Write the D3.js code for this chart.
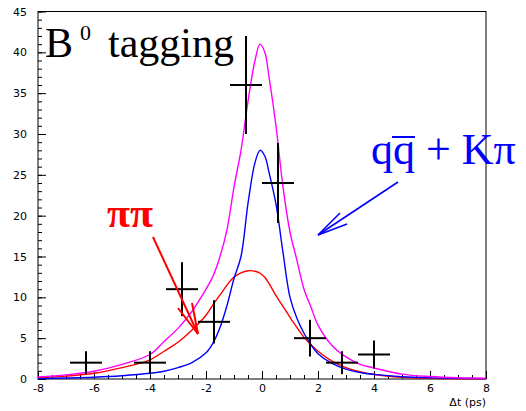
<!DOCTYPE html>
<html>
<head>
<meta charset="utf-8">
<script src="https://cdn.jsdelivr.net/npm/d3@7"></script>
<style>
  html, body { margin: 0; padding: 0; background: #fff; }
  svg { display: block; }
  .serif { font-family: "Liberation Serif", "Times New Roman", Times, "DejaVu Serif", "Noto Serif", FreeSerif, serif; }
</style>
</head>
<body>
<div id="chart"></div>
<script>
// B0 tagging: delta-t distribution with fitted components

// Histogram points (bin centres, counts, error bars)
const binCenters = [-6.286, -4.0, -2.857, -1.714, -0.571, 0.571, 1.714, 2.857, 4.0];
const binCounts  = [2, 2, 11, 7, 36, 24, 5, 2, 3];
const binErrors  = [1.4, 1.4, 3.3, 2.65, 6.0, 4.9, 2.25, 1.4, 1.7];
const binHalfWidth = 0.571;

// Curves
const curveX = [-8, -7, -6, -5, -4, -3.5, -3, -2.5, -2, -1.75, -1.5, -1.25, -1, -0.75, -0.5, -0.25, -0.07, 0.1, 0.25, 0.5, 0.75, 1, 1.25, 1.5, 1.75, 2, 2.5, 3, 3.5, 4, 5, 6, 7, 8];
const totalY = [0.25, 0.5, 0.95, 1.8, 3.0, 4.6, 6.2, 8.3, 11.0, 12.6, 15.0, 18.3, 23.5, 28.0, 34.0, 39.0, 41.0, 40.0, 37.0, 31.0, 23.5, 18.0, 14.5, 11.0, 8.8, 6.6, 4.1, 2.7, 1.8, 1.35, 0.6, 0.3, 0.15, 0.1];
const qqKpiY = [0.05, 0.12, 0.22, 0.4, 0.7, 0.95, 1.4, 2.0, 3.2, 4.4, 6.3, 9.0, 12.3, 15.0, 21.5, 26.5, 28.0, 27.3, 25.3, 21.4, 15.5, 10.0, 7.4, 5.6, 4.2, 3.1, 1.9, 1.2, 0.8, 0.57, 0.28, 0.14, 0.08, 0.05];
const pipiY  = [0.15, 0.35, 0.7, 1.4, 2.35, 3.4, 4.5, 6.0, 7.8, 9.1, 10.3, 11.5, 12.5, 13.0, 13.25, 13.2, 12.95, 12.45, 11.7, 10.2, 8.9, 7.55, 6.3, 5.1, 4.2, 3.4, 2.2, 1.4, 0.9, 0.55, 0.2, 0.08, 0.03, 0.02];

const xTicks = [-8, -6, -4, -2, 0, 2, 4, 6, 8];
const yTicks = [0, 5, 10, 15, 20, 25, 30, 35, 40, 45];

const W = 526, H = 411;
const L = 38, R = 486, T = 11.5, B = 379;

const sans = "'DejaVu Sans', sans-serif";

const svg = d3.select('#chart').append('svg')
    .attr('width', W).attr('height', H);

const x = d3.scaleLinear().domain([-8, 8]).range([L, R]);
const y = d3.scaleLinear().domain([0, 45]).range([B, T]);

// frame
svg.append('rect')
    .attr('x', L).attr('y', T).attr('width', R - L).attr('height', B - T)
    .attr('fill', 'none').attr('stroke', '#000').attr('stroke-width', 1);

// x axis (ticks pointing up, into the frame)
svg.append('g').attr('transform', `translate(0,${B})`)
    .call(d3.axisBottom(x).tickValues(d3.range(-8, 8.01, 0.5)).tickSize(-4).tickFormat(''))
    .call(g => g.select('.domain').remove());
svg.append('g').attr('transform', `translate(0,${B})`)
    .call(d3.axisBottom(x).tickValues(xTicks).tickSize(-8).tickPadding(5)
        .tickFormat(d => d < 0 ? '-' + Math.abs(d) : d))
    .call(g => g.select('.domain').remove())
    .call(g => g.selectAll('text').attr('font-family', sans)
        .attr('font-size', 11).attr('fill', '#000'));

// y axis (ticks pointing right)
svg.append('g').attr('transform', `translate(${L},0)`)
    .call(d3.axisLeft(y).tickValues(d3.range(0, 45.01, 1)).tickSize(-4).tickFormat(''))
    .call(g => g.select('.domain').remove());
svg.append('g').attr('transform', `translate(${L},0)`)
    .call(d3.axisLeft(y).tickValues(yTicks).tickSize(-8).tickPadding(11))
    .call(g => g.select('.domain').remove())
    .call(g => g.selectAll('text').attr('font-family', sans)
        .attr('font-size', 11).attr('fill', '#000'));

svg.selectAll('.tick line').attr('stroke', '#000');

// axis title
svg.append('text').attr('x', R).attr('y', 406).attr('text-anchor', 'end')
    .attr('font-family', sans).attr('font-size', 11)
    .text('Δt (ps)');

// curves
const line = (ys) => d3.line()
    .x((d, i) => x(curveX[i])).y(d => y(d))
    .curve(d3.curveCatmullRom)(ys);

[[pipiY, '#ff0000'], [qqKpiY, '#0000ff'], [totalY, '#ff00ff']].forEach(([ys, col]) => {
    svg.append('path').attr('d', line(ys))
        .attr('fill', 'none').attr('stroke', col).attr('stroke-width', 1.4);
});

// data crosses
const pts = binCenters.map((c, i) => ({ x: c, y: binCounts[i], e: binErrors[i] }));
const cross = svg.append('g').attr('stroke', '#000').attr('stroke-width', 2);
cross.selectAll('line.h').data(pts).enter().append('line')
    .attr('x1', d => x(d.x - binHalfWidth)).attr('x2', d => x(d.x + binHalfWidth))
    .attr('y1', d => y(d.y)).attr('y2', d => y(d.y));
cross.selectAll('line.v').data(pts).enter().append('line')
    .attr('x1', d => x(d.x)).attr('x2', d => x(d.x))
    .attr('y1', d => y(d.y - d.e)).attr('y2', d => y(d.y + d.e));

// title: B0 tagging
svg.append('text').attr('class', 'serif').attr('x', 45).attr('y', 57)
    .attr('font-size', 42).text('B');
svg.append('text').attr('class', 'serif').attr('x', 80).attr('y', 40)
    .attr('font-size', 22).text('0');
svg.append('text').attr('class', 'serif').attr('x', 108).attr('y', 57)
    .attr('font-size', 42).text('tagging');

// pi pi label + arrow
svg.append('text').attr('class', 'serif').attr('x', 107).attr('y', 227)
    .attr('font-size', 42).attr('font-weight', 'bold').attr('fill', '#ff0000').text('ππ');
const red = svg.append('g').attr('stroke', '#ff0000').attr('stroke-width', 2).attr('fill', 'none');
red.append('line').attr('x1', 153).attr('y1', 237).attr('x2', 198).attr('y2', 334);
red.append('line').attr('x1', 178).attr('y1', 308).attr('x2', 198).attr('y2', 334);
red.append('line').attr('x1', 192).attr('y1', 303).attr('x2', 198).attr('y2', 334);

// q qbar + K pi label + arrow
svg.append('text').attr('class', 'serif').attr('x', 371).attr('y', 164)
    .attr('font-size', 44).attr('fill', '#0000ff').text('qq + Kπ');
svg.append('line').attr('x1', 392).attr('y1', 137).attr('x2', 415).attr('y2', 137)
    .attr('stroke', '#0000ff').attr('stroke-width', 2);
const blue = svg.append('g').attr('stroke', '#0000ff').attr('stroke-width', 1.6).attr('fill', 'none');
blue.append('line').attr('x1', 398).attr('y1', 182).attr('x2', 318).attr('y2', 235);
blue.append('line').attr('x1', 340).attr('y1', 213).attr('x2', 318).attr('y2', 235);
blue.append('line').attr('x1', 347).attr('y1', 224).attr('x2', 318).attr('y2', 235);
</script>
</body>
</html>
